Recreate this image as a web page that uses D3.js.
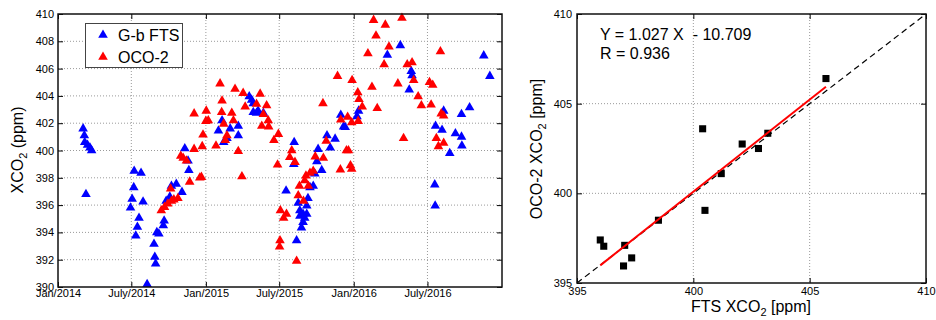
<!DOCTYPE html>
<html>
<head>
<meta charset="utf-8">
<script src="https://cdn.jsdelivr.net/npm/d3@7"></script>
<style>
  body { margin: 0; background: #fff; }
  svg { display: block; font-family: "Liberation Sans", Arial, Helvetica, sans-serif; }
  .tick text { font-size: 11px; fill: #000; }
  .grid line { stroke: #9a9a9a; stroke-dasharray: 1,2; }
</style>
</head>
<body>
<svg id="chart" width="936" height="320"></svg>
<script>
// ground-based FTS time series [date, XCO2]
const ftsSeries = [
  ["2014-03-04",401.6],["2014-03-07",401.1],["2014-03-08",400.6],["2014-03-15",400.4],["2014-03-21",400.2],["2014-03-25",400.0],["2014-03-11",396.8],
  ["2014-07-08",398.5],["2014-07-25",398.35],["2014-07-07",397.3],["2014-07-03",396.45],["2014-07-30",396.25],["2014-06-29",395.8],["2014-07-20",395.05],
  ["2014-07-16",394.4],["2014-07-12",393.75],["2014-08-09",390.2],["2014-08-26",393.15],["2014-08-28",392.2],["2014-08-30",391.7],["2014-09-02",394.0],
  ["2014-09-20",394.85],["2014-09-18",394.5],["2014-09-07",393.9],["2014-09-25",396.3],["2014-10-04",396.6],["2014-10-08",397.4],["2014-10-20",397.55],
  ["2014-11-03",396.95],["2014-11-10",400.15],["2014-11-18",399.25],["2014-11-20",398.55],
  ["2015-04-24",403.7],["2015-04-28",402.8],["2015-05-10",402.9],["2015-05-23",402.75],["2015-02-01",401.45],["2015-02-10",402.2],["2015-03-02",401.6],
  ["2015-03-22",401.8],["2015-03-22",401.1],["2015-02-14",400.6],["2015-02-22",400.9],["2015-04-18",403.95],["2015-05-06",402.75],["2015-04-28",403.45],
  ["2015-08-07",400.6],["2015-08-06",399.0],["2015-07-18",397.05],["2015-08-17",396.15],["2015-09-07",395.95],["2015-08-21",395.2],["2015-09-02",395.05],
  ["2015-08-29",394.75],["2015-08-25",394.35],["2015-08-13",393.4],["2015-09-23",397.4],["2015-09-27",398.3],["2015-10-14",398.55],["2015-10-02",399.2],
  ["2015-10-05",400.1],["2015-11-04",400.2],["2015-10-27",401.1],["2015-11-16",400.85],["2015-11-30",402.6],["2015-12-07",401.75],["2015-09-15",397.3],
  ["2015-09-10",396.5],["2015-08-21",395.6],["2015-08-29",395.35],["2015-09-07",395.35],
  ["2016-04-25",407.7],["2016-03-24",407.0],["2016-05-22",405.8],["2016-05-24",405.5],["2016-05-17",404.45],["2016-01-13",402.9],["2016-01-09",402.5],
  ["2015-12-11",401.7],["2016-08-10",402.9],["2016-07-21",401.8],["2016-08-06",401.5],["2016-10-13",403.15],["2016-09-23",402.65],["2016-09-08",401.25],
  ["2016-09-23",401.0],["2016-09-24",400.35],["2016-08-25",399.8],["2016-11-17",406.95],["2016-12-02",405.45],["2016-07-19",397.5],["2016-07-20",395.95]
];

// OCO-2 time series [date, XCO2]
const ocoSeries = [
  ["2014-09-13",395.6],["2014-09-21",395.85],["2014-09-29",396.1],["2014-10-08",396.3],["2014-10-14",396.4],["2014-10-24",396.5],["2014-10-06",397.2],
  ["2014-10-31",399.6],["2014-11-06",399.45],["2014-11-14",399.25],["2014-11-22",397.7],["2014-12-17",398.0],["2014-12-03",400.1],["2014-12-23",400.3],
  ["2014-12-25",401.15],["2015-01-01",402.15],["2015-01-02",402.9],["2014-12-03",402.7],["2014-12-21",398.05],
  ["2015-02-05",404.9],["2015-03-14",404.5],["2015-04-03",404.2],["2015-05-15",404.15],["2015-02-10",403.65],["2015-02-09",402.8],["2015-03-06",402.75],
  ["2015-04-08",403.2],["2015-05-31",403.3],["2015-01-07",402.2],["2015-02-14",401.95],["2015-03-10",402.2],["2015-05-06",403.4],["2015-05-23",402.65],
  ["2015-06-04",402.2],["2015-05-19",401.8],["2015-06-05",401.75],["2015-02-22",401.1],["2015-02-18",400.75],["2015-01-26",400.35],["2015-06-29",401.2],
  ["2015-06-18",400.75],["2015-03-22",399.95],["2015-03-31",398.1],
  ["2015-06-27",398.95],["2015-08-01",400.0],["2015-07-27",399.5],["2015-08-09",399.15],["2015-07-04",395.6],["2015-07-19",395.35],["2015-07-12",395.05],
  ["2015-07-03",393.4],["2015-07-02",392.95],["2015-08-13",391.9],["2015-08-20",397.4],["2015-08-17",396.7],["2015-08-30",396.3],["2015-09-11",397.4],
  ["2015-09-05",398.15],["2015-09-15",398.35],["2015-09-23",398.5],["2015-09-28",399.55],["2015-10-18",399.45],["2015-10-25",400.7],["2015-10-17",403.45],
  ["2015-11-22",405.45],["2015-11-30",402.25],["2015-12-17",402.45],["2015-12-14",400.0],["2015-11-29",398.6],["2015-12-24",398.9],["2015-09-02",397.8],
  ["2016-02-19",409.55],["2016-03-19",409.2],["2016-04-29",409.7],["2016-02-25",408.4],["2016-03-28",407.6],["2016-02-05",407.1],["2016-03-16",406.3],
  ["2016-05-12",406.3],["2016-05-24",406.45],["2016-08-02",407.25],["2015-12-28",405.15],["2016-02-15",404.65],["2016-04-19",404.9],["2016-05-28",405.15],
  ["2016-07-06",405.0],["2016-07-14",404.8],["2016-01-11",404.25],["2016-01-14",403.75],["2016-01-22",403.2],["2016-02-28",403.1],["2016-06-08",403.95],
  ["2016-06-16",403.3],["2016-07-10",403.35],["2016-08-04",402.7],["2016-08-10",402.55],["2016-01-12",402.15],["2015-12-27",402.05],["2016-05-03",400.9],
  ["2016-07-23",400.9],["2016-08-10",400.55],["2016-07-28",400.3],["2015-12-19",400.0],["2015-12-27",398.65]
];

const timeTicks = ["2014-01-01","2014-07-01","2015-01-01","2015-07-01","2016-01-01","2016-07-01"];
const timeTickLabels = ["Jan/2014","July/2014","Jan/2015","July/2015","Jan/2016","July/2016"];
const seriesYTicks = [390,392,394,396,398,400,402,404,406,408,410];

// coincident means for the scatter
const ftsMean = [405.7,400.4,402.1,402.8,403.2,401.2,400.5,398.5,396.0,396.15,397.05,397.35,397.0];
const ocoMean = [406.4,403.6,402.75,402.5,403.35,401.1,399.05,398.5,397.4,397.05,397.1,396.4,395.95];
const scatterTicks = [395,400,405,410];
const fitSlope = 1.027, fitIntercept = -10.709, fitR = 0.936;

const parse = d3.timeParse("%Y-%m-%d");
const svg = d3.select("#chart");
svg.append("rect").attr("width",936).attr("height",320).attr("fill","#fff");

// ---------- left panel: time series ----------
const x = d3.scaleTime().domain([parse("2014-01-01"), parse("2017-01-01")]).range([58, 502]);
const y = d3.scaleLinear().domain([390, 410]).range([287, 14]);
const tVals = timeTicks.map(parse);

const left = svg.append("g");
const lg = left.append("g").attr("class","grid");
lg.selectAll(".gx").data(tVals.slice(1)).enter().append("line")
  .attr("x1", d => x(d)).attr("x2", d => x(d)).attr("y1", 14).attr("y2", 287);
lg.selectAll(".gy").data(seriesYTicks.slice(1, -1)).enter().append("line")
  .attr("x1", 58).attr("x2", 502).attr("y1", d => y(d)).attr("y2", d => y(d));

left.append("g").attr("transform","translate(0,287)")
  .call(d3.axisBottom(x).tickValues(tVals).tickFormat((d,i) => timeTickLabels[i]).tickSize(-5).tickSizeOuter(0).tickPadding(2));
left.append("g").attr("transform","translate(0,14)")
  .call(d3.axisTop(x).tickValues(tVals).tickFormat("").tickSize(-5).tickSizeOuter(0));
left.append("g").attr("transform","translate(58,0)")
  .call(d3.axisLeft(y).tickValues(seriesYTicks).tickSize(-5).tickSizeOuter(0).tickPadding(4));
left.append("g").attr("transform","translate(502,0)")
  .call(d3.axisRight(y).tickValues(seriesYTicks).tickFormat("").tickSize(-5).tickSizeOuter(0));
left.selectAll(".domain").remove();

const tri = d3.symbol(d3.symbolTriangle, 40);
left.append("g").selectAll("path").data(ftsSeries).enter().append("path")
  .attr("d", tri).attr("fill","#0000ff")
  .attr("transform", d => `translate(${x(parse(d[0]))},${y(d[1])})`);
left.append("g").selectAll("path").data(ocoSeries).enter().append("path")
  .attr("d", tri).attr("fill","#ff0000")
  .attr("transform", d => `translate(${x(parse(d[0]))},${y(d[1])})`);

left.append("rect").attr("x",58).attr("y",14).attr("width",444).attr("height",273)
  .attr("fill","none").attr("stroke","#111").attr("stroke-width",1.5);

// legend
const leg = left.append("g");
leg.append("rect").attr("x",85.5).attr("y",23.5).attr("width",97).attr("height",44)
  .attr("fill","#fff").attr("stroke","#444").attr("stroke-width",1);
[["G-b FTS","#0000ff"],["OCO-2","#ff0000"]].forEach((e,i) => {
  leg.append("path").attr("d", tri).attr("fill", e[1])
    .attr("transform", `translate(103,${35 + i*22})`);
  leg.append("text").attr("x",118).attr("y",40.5 + i*22).attr("font-size",16).text(e[0]);
});

const ylab = left.append("text").attr("transform","translate(23,150) rotate(-90)")
  .attr("text-anchor","middle").attr("font-size",16);
ylab.append("tspan").text("XCO");
ylab.append("tspan").attr("font-size",11).attr("dy",4).text("2");
ylab.append("tspan").attr("dy",-4).text(" (ppm)");

// ---------- right panel: scatter ----------
const sx = d3.scaleLinear().domain([395, 410]).range([577, 926]);
const sy = d3.scaleLinear().domain([395, 410]).range([283, 14]);
const right = svg.append("g");
const rg = right.append("g").attr("class","grid");
rg.selectAll(".gx").data(scatterTicks.slice(1,-1)).enter().append("line")
  .attr("x1", d => sx(d)).attr("x2", d => sx(d)).attr("y1", 14).attr("y2", 283);
rg.selectAll(".gy").data(scatterTicks.slice(1,-1)).enter().append("line")
  .attr("x1", 577).attr("x2", 926).attr("y1", d => sy(d)).attr("y2", d => sy(d));

right.append("g").attr("transform","translate(0,283)")
  .call(d3.axisBottom(sx).tickValues(scatterTicks).tickSize(-5).tickSizeOuter(0).tickPadding(4));
right.append("g").attr("transform","translate(0,14)")
  .call(d3.axisTop(sx).tickValues(scatterTicks).tickFormat("").tickSize(-5).tickSizeOuter(0));
right.append("g").attr("transform","translate(577,0)")
  .call(d3.axisLeft(sy).tickValues(scatterTicks).tickSize(-5).tickSizeOuter(0).tickPadding(5));
right.append("g").attr("transform","translate(926,0)")
  .call(d3.axisRight(sy).tickValues(scatterTicks).tickFormat("").tickSize(-5).tickSizeOuter(0));
right.selectAll(".domain").remove();

// 1:1 line
right.append("line")
  .attr("x1", sx(395)).attr("y1", sy(395)).attr("x2", sx(410)).attr("y2", sy(410))
  .attr("stroke","#000").attr("stroke-width",1.2).attr("stroke-dasharray","6,4");

const pts = ftsMean.map((v,i) => [v, ocoMean[i]]);
right.append("g").selectAll("path").data(pts).enter().append("path")
  .attr("d", d3.symbol(d3.symbolSquare, 50)).attr("fill","#000")
  .attr("transform", d => `translate(${sx(d[0])},${sy(d[1])})`);

const [fx0, fx1] = d3.extent(ftsMean);
right.append("line")
  .attr("x1", sx(fx0)).attr("y1", sy(fitSlope*fx0 + fitIntercept))
  .attr("x2", sx(fx1)).attr("y2", sy(fitSlope*fx1 + fitIntercept))
  .attr("stroke","#ff0000").attr("stroke-width",2);

right.append("rect").attr("x",577).attr("y",14).attr("width",349).attr("height",269)
  .attr("fill","none").attr("stroke","#111").attr("stroke-width",1.5);

right.append("text").attr("x",600).attr("y",40).attr("font-size",16)
  .style("white-space","pre").text(`Y = ${fitSlope.toFixed(3)} X  - ${Math.abs(fitIntercept).toFixed(3)}`);
right.append("text").attr("x",600).attr("y",59).attr("font-size",16)
  .text(`R = ${fitR.toFixed(3)}`);

const rylab = right.append("text").attr("transform","translate(542,149) rotate(-90)")
  .attr("text-anchor","middle").attr("font-size",16);
rylab.append("tspan").text("OCO-2 XCO");
rylab.append("tspan").attr("font-size",11).attr("dy",4).text("2");
rylab.append("tspan").attr("dy",-4).text(" [ppm]");

const rxlab = right.append("text").attr("x",751).attr("y",312)
  .attr("text-anchor","middle").attr("font-size",16);
rxlab.append("tspan").text("FTS XCO");
rxlab.append("tspan").attr("font-size",11).attr("dy",4).text("2");
rxlab.append("tspan").attr("dy",-4).text(" [ppm]");
</script>
</body>
</html>
